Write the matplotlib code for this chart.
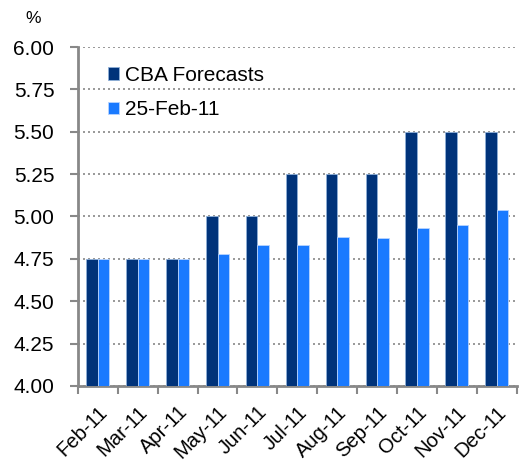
import numpy as np
import matplotlib.pyplot as plt

months = ['Feb-11', 'Mar-11', 'Apr-11', 'May-11', 'Jun-11', 'Jul-11',
          'Aug-11', 'Sep-11', 'Oct-11', 'Nov-11', 'Dec-11']
cba_forecasts = [4.75, 4.75, 4.75, 5.00, 5.00, 5.25, 5.25, 5.25, 5.50, 5.50, 5.50]
market_25feb = [4.75, 4.75, 4.75, 4.78, 4.83, 4.83, 4.88, 4.87, 4.93, 4.95, 5.04]

plt.rcParams['font.family'] = ['Liberation Sans', 'DejaVu Sans']

fig = plt.figure(figsize=(5.3, 4.66), dpi=100)
ax = fig.add_axes([0.147, 0.172, 0.828, 0.727])

x = np.arange(len(months))
w = 0.29
ax.bar(x - w / 2, cba_forecasts, w, color='#00337a', edgecolor='#8fb0d8',
       linewidth=0.6, label='CBA Forecasts', zorder=3)
ax.bar(x + w / 2, market_25feb, w, color='#1a7aff', edgecolor='#b8d4ff',
       linewidth=0.6, label='25-Feb-11', zorder=3)

ax.set_ylim(4.0, 6.0)
ax.set_xlim(-0.5, len(months) - 0.5)
ax.set_yticks(np.arange(4.0, 6.01, 0.25))
ax.set_yticklabels([f'{v:.2f}' for v in np.arange(4.0, 6.01, 0.25)], fontsize=15)
ax.yaxis.grid(True, linestyle=(0, (1.2, 1.8)), color='#888888', linewidth=1.2, zorder=0)
ax.set_axisbelow(True)

# month labels sit under the bars, ticks mark the category boundaries
ax.set_xticks(x)
ax.set_xticklabels(months, rotation=45, ha='right', rotation_mode='anchor', fontsize=14.5)
ax.tick_params(axis='x', length=0, pad=12)
ax.set_xticks(np.arange(-0.5, len(months)), minor=True)
ax.tick_params(axis='x', which='minor', length=6, width=1.5, color='#888888', direction='out')
ax.tick_params(axis='y', length=6, width=1.5, color='#888888', direction='out', pad=11)

for side in ['top', 'right']:
    ax.spines[side].set_visible(False)
for side in ['left', 'bottom']:
    ax.spines[side].set_color('#888888')
    ax.spines[side].set_linewidth(2)

fig.text(0.062, 0.96, '%', fontsize=12.5, ha='center', va='center')

ax.legend(loc='upper left', bbox_to_anchor=(0.025, 1.0), frameon=False, fontsize=15,
          handlelength=0.55, handleheight=0.55, handletextpad=0.3, labelspacing=0.75)

fig.savefig('out.png', dpi=100)
